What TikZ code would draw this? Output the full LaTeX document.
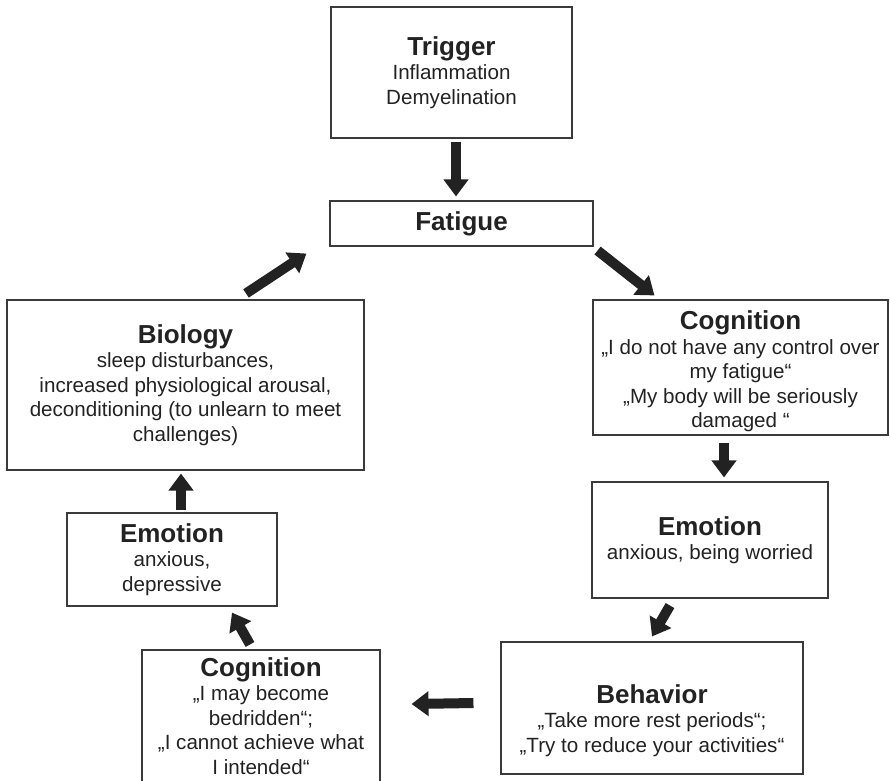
\documentclass[tikz,border=0pt]{standalone}
\usepackage{fontspec}
\setmainfont{Liberation Sans}
\usepackage{xcolor}
\usetikzlibrary{arrows.meta,positioning}
\definecolor{inkgray}{HTML}{222222}
\definecolor{framegray}{HTML}{3A3A3A}
\newcommand{\boxhead}[1]{{\fontsize{26}{28}\selectfont\bfseries #1}}

\begin{document}
\begin{tikzpicture}[x=1pt, y=-1pt,
    box/.style={draw=framegray, line width=1.1pt, align=center, inner sep=1pt,
        text=inkgray, font=\fontsize{20.6}{24.5}\selectfont},
    flow/.style={draw=inkgray, line width=10pt, -{Triangle[width=24pt,length=17pt]}}]
    \useasboundingbox (0,0) rectangle (890,780);

    % trigger and fatigue
    \node [box, minimum width=241pt, minimum height=131pt] (trig) at (451.5,72.5)
        {\boxhead{Trigger}\\Inflammation\\Demyelination};
    \node [box, minimum width=263pt, minimum height=45pt] (fat) at (461.5,223.5)
        {\boxhead{Fatigue}};

    % right side of the circle
    \node [box, minimum width=295pt, minimum height=135pt] (cogR) at (740.5,367.5)
        {\rule{0pt}{27pt}\boxhead{Cognition}\\„I do not have any control over\\my fatigue“\\„My body will be seriously\\damaged “};
    \node [box, minimum width=236pt, minimum height=116pt] (emoR) at (710,540)
        {\boxhead{Emotion}\\anxious, being worried};
    \node [box, minimum width=302pt, minimum height=132pt] (beh) at (652,708)
        {\rule{0pt}{44pt}\boxhead{Behavior}\\„Take more rest periods“;\\„Try to reduce your activities“};

    % left side of the circle
    \node [box, minimum width=238pt, minimum height=132pt] (cogL) at (261,716)
        {\boxhead{Cognition}\\„I may become\\bedridden“;\\„I cannot achieve what\\I intended“};
    \node [box, minimum width=210pt, minimum height=93pt] (emoL) at (172,559.5)
        {\boxhead{Emotion}\\anxious,\\depressive};
    \node [box, minimum width=357pt, minimum height=170pt] (bio) at (185.5,385)
        {\boxhead{Biology}\\sleep disturbances,\\increased physiological arousal,\\deconditioning (to unlearn to meet\\challenges)};

    % arrows
    \draw [flow] ([shift={(4.5,3)}]trig.south) -- ([shift={(-5.5,-4)}]fat.north);
    \draw [flow] ([shift={(4,4)}]fat.south east) -- ([shift={(62,-4)}]cogR.north west);
    \draw [flow] ([shift={(-16.5,7)}]cogR.south) -- ([shift={(14,-4)}]emoR.north);
    \draw [flow] ([shift={(-40,7)}]emoR.south) -- ([shift={(0,-5)}]beh.north);
    \draw [flow] ([shift={(-27,-5)}]beh.west) -- ([shift={(31,-12)}]cogL.east);
    \draw [flow] ([shift={(-11,-5)}]cogL.north) -- ([shift={(60,6)}]emoL.south);
    \draw [flow] ([shift={(9,-2)}]emoL.north) -- ([shift={(-4.5,3)}]bio.south);
    \draw [flow] ([shift={(60.5,-6)}]bio.north) -- ([shift={(-23,7)}]fat.south west);
\end{tikzpicture}
\end{document}
